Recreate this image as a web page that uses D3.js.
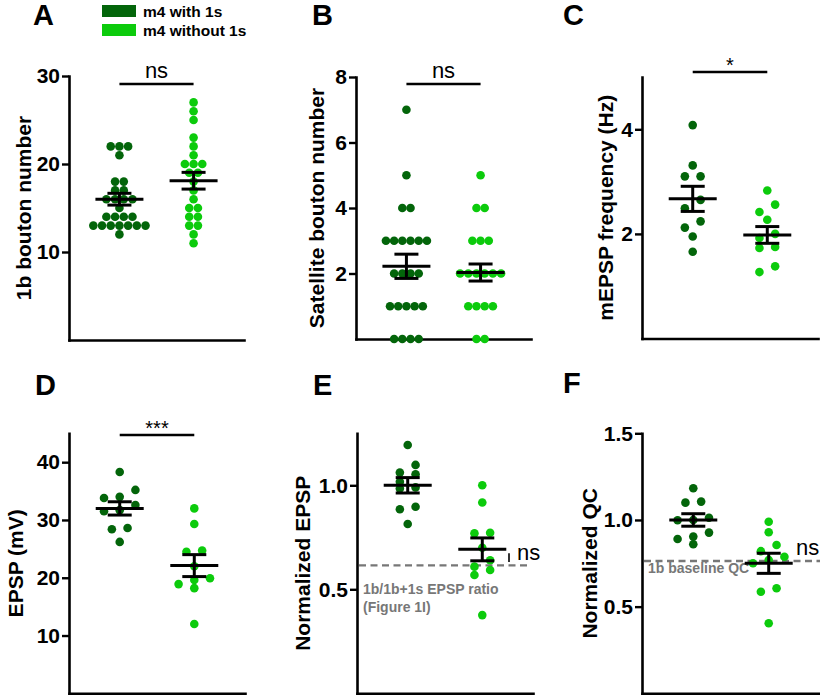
<!DOCTYPE html>
<html><head><meta charset="utf-8">
<script src="https://cdn.jsdelivr.net/npm/d3@7"></script>
<style>
body{margin:0;background:#fff}
svg{display:block}
text{font-family:"Liberation Sans",Arial,Helvetica,sans-serif}
</style>
</head><body>
<svg id="chart" width="820" height="697"></svg>
<script>
// ---------------- DATA ----------------
const groups = ["m4 with 1s", "m4 without 1s"];

// A: 1b bouton number
const boutonWith    = [22,22,22,21,18,18,17,17,16,16,16,16,15,14,14,14,14,13,13,13,13,13,13,13,12];
const boutonWithout = [27,26,25,23,22,21,20,20,20,19,19,18,17,16,15,15,14,14,13,13,12,11];
const boutonMean = [16.0, 18.1];
const boutonSem  = [0.67, 0.95];
const boutonTicks = [10, 20, 30];

// B: satellite bouton number
const satelliteWith    = [7,5,4,4,3,3,3,3,3,3,2,2,2,2,1,1,1,1,1,0,0,0,0];
const satelliteWithout = [5,4,4,3,3,3,2,2,2,2,2,2,1,1,1,1,0,0];
const satelliteMean = [2.22, 2.03];
const satelliteSem  = [0.37, 0.26];
const satelliteTicks = [2, 4, 6, 8];

// C: mEPSP frequency (Hz)
const mepspWith    = [4.08,3.31,3.10,3.10,2.65,2.49,2.24,2.12,1.95,1.66];
const mepspWithout = [2.83,2.56,2.42,2.27,2.00,1.92,1.75,1.73,1.38,1.27];
const mepspMean = [2.67, 1.98];
const mepspSem  = [0.24, 0.16];
const mepspTicks = [2, 4];

// D: EPSP (mV)
const epspWith    = [38.3,35.2,34.0,33.8,32.6,31.7,31.5,28.6,28.4,26.2];
const epspWithout = [32.0,29.3,24.7,24.5,22.0,19.9,19.6,18.9,18.2,12.0];
const epspMean = [32.0, 22.1];
const epspSem  = [1.15, 1.9];
const epspTicks = [10, 20, 30, 40];

// E: normalized EPSP
const normEpspWith    = [1.194,1.098,1.061,1.053,1.017,0.99,0.985,0.897,0.885,0.814];
const normEpspWithout = [1.0,0.917,0.772,0.769,0.70,0.64,0.609,0.593,0.569,0.376];
const normEpspMean = [1.0, 0.692];
const normEpspSem  = [0.037, 0.055];
const normEpspTicks = [0.5, 1.0];
const epspRatioRef = 0.615;

// F: normalized QC
const normQcWith    = [1.183,1.106,1.100,1.013,1.0,0.998,0.927,0.904,0.890,0.860];
const normQcWithout = [0.990,0.929,0.856,0.82,0.788,0.769,0.75,0.606,0.586,0.404];
const normQcMean = [1.0, 0.75];
const normQcSem  = [0.036, 0.058];
const normQcTicks = [0.5, 1.0, 1.5];
const qcBaselineRef = 0.763;

// ---------------- STYLE / LAYOUT ----------------
const colors = ["#03650a", "#0ccb0c"];
const R = 4.3;
const svg = d3.select("#chart");

const panels = [
  {letter:"A", lx:33, ly:25, values:[boutonWith,boutonWithout], mean:boutonMean, sem:boutonSem, ticks:boutonTicks,
   domain:[0,30], yr:[340,76], ax:69, ae:244, title:"1b bouton number", tx:23, fmt:d3.format("d"), slot:8.7, bin:4,
   sig:{y:84, label:"ns", size:22, ty:78}},
  {letter:"B", lx:312, ly:25, values:[satelliteWith,satelliteWithout], mean:satelliteMean, sem:satelliteSem, ticks:satelliteTicks,
   domain:[0,8], yr:[339,77], ax:356, ae:531, title:"Satellite bouton number", tx:316, fmt:d3.format("d"), slot:8.2, bin:4,
   sig:{y:84, label:"ns", size:22, ty:78}},
  {letter:"C", lx:563, ly:25, values:[mepspWith,mepspWithout], mean:mepspMean, sem:mepspSem, ticks:mepspTicks,
   domain:[0,5], yr:[338.5,77], ax:642, ae:818, title:"mEPSP frequency (Hz)", tx:605, fmt:d3.format("d"), slot:15.7, bin:9,
   sig:{y:72, label:"*", size:20, ty:72}},
  {letter:"D", lx:35, ly:395, values:[epspWith,epspWithout], mean:epspMean, sem:epspSem, ticks:epspTicks,
   domain:[0,45], yr:[693.3,433.3], ax:69, ae:245, title:"EPSP (mV)", tx:15, fmt:d3.format("d"), slot:15.7, bin:9,
   sig:{y:435, label:"***", size:20, ty:435}},
  {letter:"E", lx:313, ly:395, values:[normEpspWith,normEpspWithout], mean:normEpspMean, sem:normEpspSem, ticks:normEpspTicks,
   domain:[0,1.25], yr:[693.3,433.3], ax:357, ae:533, title:"Normalized EPSP", tx:302, fmt:d3.format(".1f"), slot:15.7, bin:9,
   ref:{v:epspRatioRef, end:530, lines:["1b/1b+1s EPSP ratio","(Figure 1I)"], tx:363, ty:[594,612], ns:{x:517,y:560,bar:509}}},
  {letter:"F", lx:563, ly:393, values:[normQcWith,normQcWithout], mean:normQcMean, sem:normQcSem, ticks:normQcTicks,
   domain:[0,1.5], yr:[693.3,433.3], ax:642, ae:820, title:"Normalized QC", tx:589, fmt:d3.format(".1f"), slot:15.7, bin:9,
   ref:{v:qcBaselineRef, end:820, lines:["1b baseline QC"], tx:648, ty:[573], ns:{x:796,y:555}}}
];

// row-binned scatter layout (points close in y share a row, spread symmetrically)
function swarm(values, y, cx, slot, binH){
  const pts = values.map(v => ({v, py: y(v)})).sort((a, b) => a.py - b.py);
  const rows = [];
  pts.forEach(p => {
    const last = rows[rows.length - 1];
    if (last && p.py - last[0].py < binH) last.push(p); else rows.push([p]);
  });
  rows.forEach(row => {
    row.sort((a, b) => a.v - b.v);
    const n = row.length;
    row.forEach((p, i) => { p.px = cx + (i - (n - 1) / 2) * slot; });
  });
  return pts;
}

panels.forEach(p => {
  const g = svg.append("g");
  const y = d3.scaleLinear().domain(p.domain).range(p.yr);
  const x = d3.scalePoint().domain(groups).range([p.ax, p.ae]).padding(0.68);
  const base = p.yr[0];

  g.append("text").attr("x", p.lx).attr("y", p.ly).attr("font-size", 29).attr("font-weight", "bold").text(p.letter);

  const ya = g.append("g").attr("transform", `translate(${p.ax},0)`)
    .call(d3.axisLeft(y).tickValues(p.ticks).tickFormat(p.fmt).tickSize(7).tickPadding(2).tickSizeOuter(0));
  ya.select(".domain").attr("stroke-width", 2.6).attr("stroke-linecap", "square");
  ya.selectAll(".tick line").attr("stroke-width", 2.4);
  ya.selectAll(".tick text").attr("font-size", 21).attr("font-weight", "bold").attr("fill", "#000")
    .attr("font-family", '"Liberation Sans",Arial,sans-serif');

  const xa = g.append("g").attr("transform", `translate(0,${base})`)
    .call(d3.axisBottom(x).tickValues([]).tickSizeOuter(0));
  xa.select(".domain").attr("stroke-width", 2.6).attr("stroke-linecap", "square");

  const cy = (p.yr[0] + p.yr[1]) / 2;
  g.append("text").attr("transform", `translate(${p.tx},${cy}) rotate(-90)`)
    .attr("text-anchor", "middle").attr("dominant-baseline", "central")
    .attr("font-size", 21).attr("font-weight", "bold").text(p.title);

  if (p.ref) {
    g.append("line").attr("x1", p.ax + 2).attr("x2", p.ref.end)
      .attr("y1", y(p.ref.v)).attr("y2", y(p.ref.v))
      .attr("stroke", "#777").attr("stroke-width", 2.4).attr("stroke-dasharray", "7,4.5");
    p.ref.lines.forEach((t, i) => {
      g.append("text").attr("x", p.ref.tx).attr("y", p.ref.ty[i]).attr("font-size", 14)
        .attr("font-weight", "bold").attr("fill", "#777").text(t);
    });
  }

  p.values.forEach((vals, gi) => {
    const nodes = swarm(vals, y, x(groups[gi]), p.slot, p.bin);
    g.append("g").selectAll("circle").data(nodes).join("circle")
      .attr("cx", d => d.px).attr("cy", d => d.py).attr("r", R).attr("fill", colors[gi]);
  });

  groups.forEach((grp, gi) => {
    const cx = x(grp), m = p.mean[gi], s = p.sem[gi];
    const eg = g.append("g").attr("stroke", "#000").attr("stroke-width", 3);
    eg.append("line").attr("x1", cx - 24).attr("x2", cx + 24).attr("y1", y(m)).attr("y2", y(m));
    eg.append("line").attr("x1", cx).attr("x2", cx).attr("y1", y(m - s)).attr("y2", y(m + s));
    eg.append("line").attr("x1", cx - 12).attr("x2", cx + 12).attr("y1", y(m + s)).attr("y2", y(m + s));
    eg.append("line").attr("x1", cx - 12).attr("x2", cx + 12).attr("y1", y(m - s)).attr("y2", y(m - s));
  });

  if (p.sig) {
    const x1 = x(groups[0]), x2 = x(groups[1]);
    g.append("line").attr("x1", x1).attr("x2", x2).attr("y1", p.sig.y).attr("y2", p.sig.y)
      .attr("stroke", "#000").attr("stroke-width", 2.6);
    g.append("text").attr("x", (x1 + x2) / 2).attr("y", p.sig.ty).attr("text-anchor", "middle")
      .attr("font-size", p.sig.size).text(p.sig.label);
  }
  if (p.ref && p.ref.ns) {
    if (p.ref.ns.bar) {
      g.append("line").attr("x1", p.ref.ns.bar).attr("x2", p.ref.ns.bar)
        .attr("y1", y(p.ref.v + 0.058)).attr("y2", y(p.ref.v + 0.016))
        .attr("stroke", "#000").attr("stroke-width", 1.6);
    }
    g.append("text").attr("x", p.ref.ns.x).attr("y", p.ref.ns.y).attr("font-size", 22).text("ns");
  }
});

// legend
const lg = svg.append("g");
groups.forEach((grp, i) => {
  lg.append("rect").attr("x", 102).attr("y", 5 + i * 19).attr("width", 34).attr("height", 12).attr("fill", colors[i]);
  lg.append("text").attr("x", 143).attr("y", 17 + i * 19).attr("font-size", 15.5).attr("font-weight", "bold").text(grp);
});
</script>
</body></html>
